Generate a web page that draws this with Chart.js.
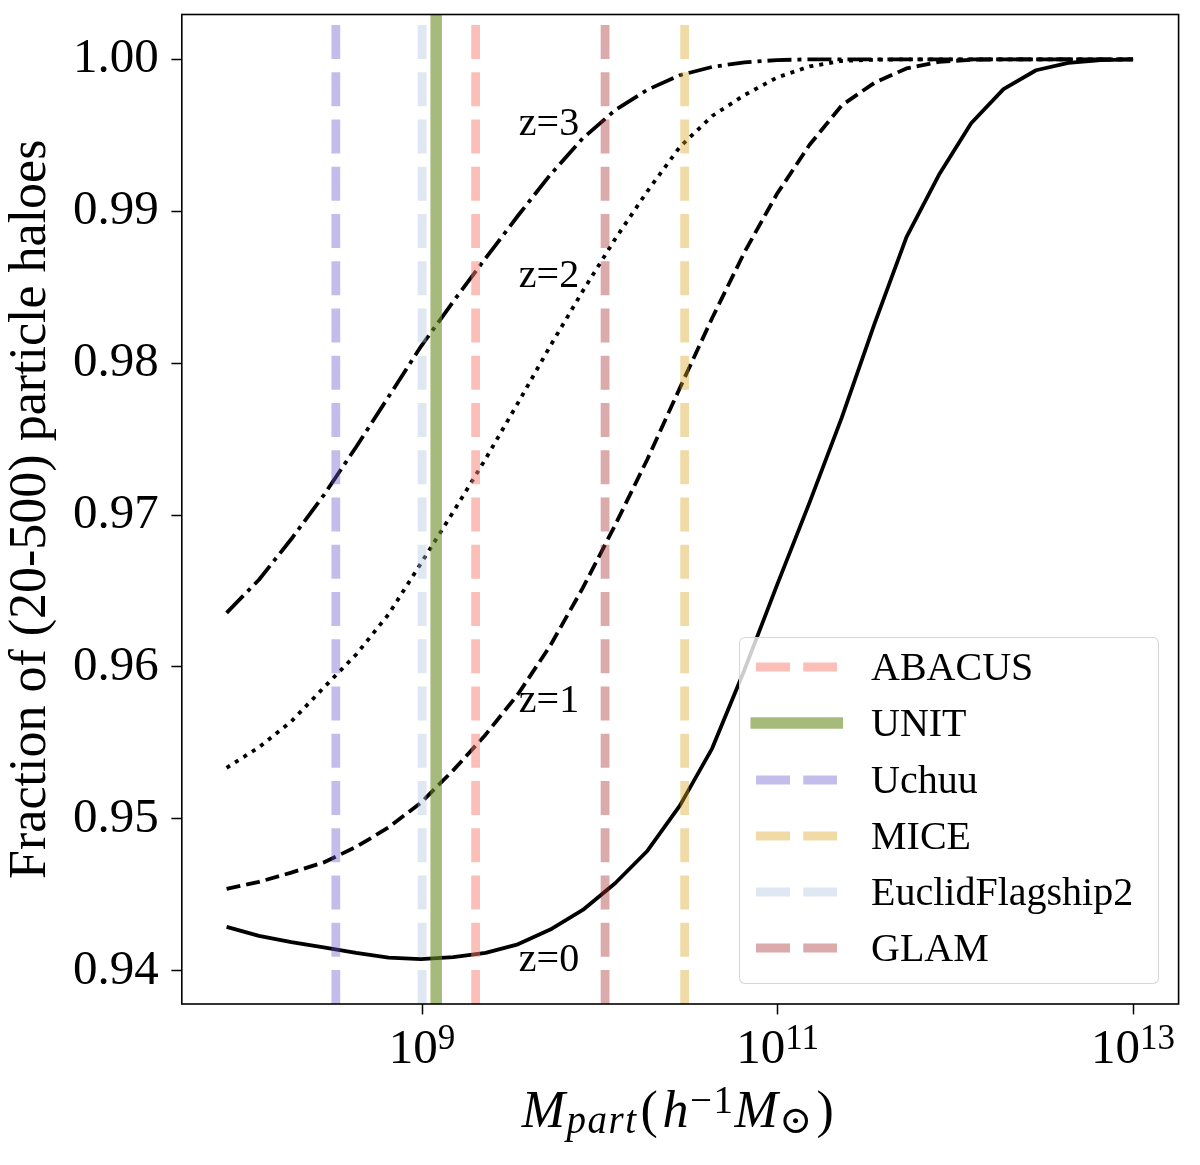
<!DOCTYPE html>
<html>
<head>
<meta charset="utf-8">
<script src="https://cdn.jsdelivr.net/npm/chart.js@4.4.1/dist/chart.umd.min.js"></script>
<style>
  html, body { margin: 0; padding: 0; background: #fff; }
  #wrap { position: relative; width: 1200px; height: 1165px; }
  #plot { position: absolute; left: 0; top: 0; width: 1200px; height: 1165px; }
  #legend {
    position: absolute; left: 739px; top: 636.6px; width: 419.7px; height: 347.4px;
    box-sizing: border-box; border: 1.6px solid rgba(204,204,204,0.8); border-radius: 6px;
    background: rgba(255,255,255,0.8);
  }
  #legend .row { position: absolute; left: 0; height: 40px; width: 100%; }
  #legend svg { position: absolute; left: 0; top: 12px; }
  #legend span {
    position: absolute; left: 131px; top: 0; line-height: 40px; white-space: nowrap;
    font-family: 'Liberation Serif', 'DejaVu Serif', serif; font-size: 40px; color: #000;
  }
  #xtitle {
    position: absolute; left: 680px; top: 1084px; transform: translateX(-50%);
    font-family: 'Liberation Serif', 'DejaVu Serif', serif; font-size: 52px; line-height: 52px;
    white-space: nowrap; color: #000; letter-spacing: 1.5px;
  }
  #xtitle sub, #xtitle sup { font-size: 0.75em; line-height: 0; position: relative; vertical-align: baseline; }
  #xtitle sub { top: 0.15em; }
  #xtitle sup { top: -0.37em; }
  #xtitle .p { margin: 0 3px; }
</style>
</head>
<body>
<div id="wrap">
  <div id="plot"><canvas id="chart"></canvas></div>
  <div id="legend"></div>
  <div id="xtitle"><i>M</i><sub><i>part</i></sub><span class="p">(</span><i>h</i><sup>&minus;1</sup><i>M</i><sub>&#x2299;</sub><span class="p">)</span></div>
</div>
<script>
// particle mass grid (h^-1 Msun)
const massGrid = [7.943e7, 1.208e8, 1.837e8, 2.793e8, 4.254e8, 6.471e8, 9.840e8, 1.496e9, 2.275e9,
  3.459e9, 5.260e9, 8.017e9, 1.219e10, 1.854e10, 2.818e10, 4.285e10, 6.516e10, 9.908e10, 1.510e11,
  2.296e11, 3.491e11, 5.309e11, 8.072e11, 1.227e12, 1.866e12, 2.844e12, 4.325e12, 6.577e12, 1.0e13];

// fraction of (20-500) particle haloes per redshift
const fracZ0 = [0.94289, 0.94230, 0.94188, 0.94153, 0.94117, 0.94086, 0.94076, 0.94090, 0.94118,
  0.94174, 0.94271, 0.94400, 0.94576, 0.94790, 0.95087, 0.95464, 0.95982, 0.96537, 0.97080,
  0.97641, 0.98251, 0.98830, 0.99238, 0.99579, 0.99804, 0.99928, 0.99976, 0.99995, 1.00000];
const fracZ1 = [0.94539, 0.94585, 0.94646, 0.94713, 0.94815, 0.94943, 0.95106, 0.95319, 0.95554,
  0.95820, 0.96140, 0.96520, 0.96934, 0.97369, 0.97836, 0.98297, 0.98731, 0.99113, 0.99436,
  0.99697, 0.99844, 0.99940, 0.99983, 0.99997, 1.00000, 1.00000, 1.00000, 1.00000, 1.00000];
const fracZ2 = [0.95336, 0.95471, 0.95641, 0.95863, 0.96082, 0.96346, 0.96681, 0.97020, 0.97369,
  0.97737, 0.98113, 0.98475, 0.98817, 0.99133, 0.99423, 0.99627, 0.99765, 0.99880, 0.99953,
  0.99989, 0.99997, 1.00000, 1.00000, 1.00000, 1.00000, 1.00000, 1.00000, 1.00000, 1.00000];
const fracZ3 = [0.96356, 0.96574, 0.96842, 0.97130, 0.97448, 0.97778, 0.98109, 0.98405, 0.98690,
  0.98970, 0.99240, 0.99480, 0.99665, 0.99800, 0.99895, 0.99950, 0.99980, 0.99995, 1.00000,
  1.00000, 1.00000, 1.00000, 1.00000, 1.00000, 1.00000, 1.00000, 1.00000, 1.00000, 1.00000];

// text labels next to the curves
const curveLabels = ['z=0', 'z=1', 'z=2', 'z=3'];
const curveLabelX = [3.5e9, 3.5e9, 3.5e9, 3.5e9];
const curveLabelY = [0.940, 0.957, 0.985, 0.995];

// simulations and their particle mass
const simNames = ['ABACUS', 'UNIT', 'Uchuu', 'MICE', 'EuclidFlagship2', 'GLAM'];
const simMass = [2.0e9, 1.2e9, 3.27e8, 3.0e10, 1.0e9, 1.07e10];

// axis limits and ticks
const xMin = 4.446e7, xMax = 1.803e13;
const yMin = 0.93781, yMax = 1.00295;
const xTicks = [1e9, 1e11, 1e13];
const xTickBase = ['10', '10', '10'];
const xTickExp = ['9', '11', '13'];
const yTicks = [0.94, 0.95, 0.96, 0.97, 0.98, 0.99, 1.00];
const yTickLabels = ['0.94', '0.95', '0.96', '0.97', '0.98', '0.99', '1.00'];

// styles
const simColors = ['rgba(250,128,114,0.5)', 'rgba(107,142,35,0.6)', 'rgba(106,90,205,0.4)',
  'rgba(218,165,32,0.4)', 'rgba(176,196,222,0.4)', 'rgba(165,42,42,0.4)'];
const simSolid = [false, true, false, false, false, false];
const vDash = [34, 13.25];
const curveDash = [[], [14, 6], [4, 6], [24, 6, 4, 6]];
const serif = "'Liberation Serif', 'DejaVu Serif', serif";

const curves = [fracZ0, fracZ1, fracZ2, fracZ3];
const datasets = [];

simNames.forEach((name, i) => {
  datasets.push({
    label: name,
    data: [{ x: simMass[i], y: yMin }, { x: simMass[i], y: yMax }],
    borderColor: simColors[i],
    borderWidth: simSolid[i] ? 11.5 : 8.8,
    borderDash: simSolid[i] ? [] : vDash,
    borderCapStyle: 'butt',
    pointRadius: 0,
    order: 0
  });
});

curves.forEach((vals, i) => {
  datasets.push({
    label: curveLabels[i],
    data: massGrid.map((m, k) => ({ x: m, y: vals[k] })),
    borderColor: '#000',
    borderWidth: 3.8,
    borderDash: curveDash[i],
    borderCapStyle: 'butt',
    borderJoinStyle: 'round',
    pointRadius: 0,
    tension: 0,
    order: 1
  });
});

// box around the axes
const framePlugin = {
  id: 'frame',
  afterDatasetsDraw(chart) {
    const { ctx, chartArea: a } = chart;
    ctx.save();
    ctx.strokeStyle = '#000';
    ctx.lineWidth = 1.6;
    ctx.strokeRect(a.left, a.top, a.right - a.left, a.bottom - a.top);
    ctx.restore();
  }
};

// z=... annotations placed in data coordinates
const curveTextPlugin = {
  id: 'curveText',
  afterDatasetsDraw(chart) {
    const { ctx, scales } = chart;
    ctx.save();
    ctx.fillStyle = '#000';
    ctx.font = '40px ' + serif;
    ctx.textAlign = 'left';
    ctx.textBaseline = 'alphabetic';
    curveLabels.forEach((t, i) => {
      ctx.fillText(t, scales.x.getPixelForValue(curveLabelX[i]), scales.y.getPixelForValue(curveLabelY[i]));
    });
    ctx.restore();
  }
};

// power-of-ten labels with a raised exponent
const powerLabelPlugin = {
  id: 'powerLabels',
  afterDraw(chart) {
    const { ctx, scales } = chart;
    const base = scales.x.bottom - 161 + 58.5;
    ctx.save();
    ctx.fillStyle = '#000';
    ctx.textAlign = 'left';
    ctx.textBaseline = 'alphabetic';
    xTicks.forEach((v, i) => {
      const px = scales.x.getPixelForValue(v);
      ctx.font = '49px ' + serif;
      const wb = ctx.measureText(xTickBase[i]).width;
      ctx.font = '35px ' + serif;
      const we = ctx.measureText(xTickExp[i]).width;
      const x0 = px - (wb + we) / 2;
      ctx.font = '49px ' + serif;
      ctx.fillText(xTickBase[i], x0, base);
      ctx.font = '35px ' + serif;
      ctx.fillText(xTickExp[i], x0 + wb, base - 14);
    });
    ctx.restore();
  }
};

new Chart(document.getElementById('chart'), {
  type: 'line',
  data: { datasets },
  options: {
    responsive: true,
    maintainAspectRatio: false,
    animation: false,
    layout: { padding: { top: 14.5, right: 21.4, bottom: 0, left: 0 } },
    plugins: { legend: { display: false }, tooltip: { enabled: false } },
    scales: {
      x: {
        type: 'logarithmic',
        min: xMin,
        max: xMax,
        afterBuildTicks: s => { s.ticks = xTicks.map(v => ({ value: v })); s.min = xMin; s.max = xMax; },
        afterFit: s => { s.height = 161; s.paddingLeft = 0; s.paddingRight = 0; },
        ticks: { display: false, autoSkip: false, maxRotation: 0, minRotation: 0 },
        grid: { display: true, drawOnChartArea: false, drawTicks: true, tickLength: 10.4, tickColor: '#000', tickWidth: 1.5 },
        border: { display: false }
      },
      y: {
        type: 'linear',
        min: yMin,
        max: yMax,
        afterBuildTicks: s => { s.ticks = yTicks.map(v => ({ value: v })); s.min = yMin; s.max = yMax; },
        afterFit: s => { s.width = 181.8; s.paddingTop = 0; s.paddingBottom = 0; },
        ticks: {
          autoSkip: false, padding: 12.6, color: '#000',
          font: { family: serif, size: 49 },
          callback: (v, i) => yTickLabels[i]
        },
        grid: { display: true, drawOnChartArea: false, drawTicks: true, tickLength: 10.4, tickColor: '#000', tickWidth: 1.5 },
        border: { display: false },
        title: {
          display: true,
          text: 'Fraction of (20-500) particle haloes',
          color: '#000',
          font: { family: serif, size: 52 },
          padding: { top: 0, bottom: 0 }
        }
      }
    }
  },
  plugins: [framePlugin, curveTextPlugin, powerLabelPlugin]
});

// legend, built from the simulation arrays
const legendEl = document.getElementById('legend');
simNames.forEach((name, i) => {
  const row = document.createElement('div');
  row.className = 'row';
  row.style.top = (29.8 + i * 56.1 - 20) + 'px';
  const x1 = simSolid[i] ? 10.5 : 16, x2 = simSolid[i] ? 103 : 97;
  const w = simSolid[i] ? 11.5 : 8.8;
  const dash = simSolid[i] ? '' : ` stroke-dasharray="${vDash.join(' ')}"`;
  row.innerHTML = `<svg width="120" height="16"><line x1="${x1}" y1="8" x2="${x2}" y2="8" stroke="${simColors[i]}" stroke-width="${w}"${dash}/></svg><span>${name}</span>`;
  legendEl.appendChild(row);
});
</script>
</body>
</html>
